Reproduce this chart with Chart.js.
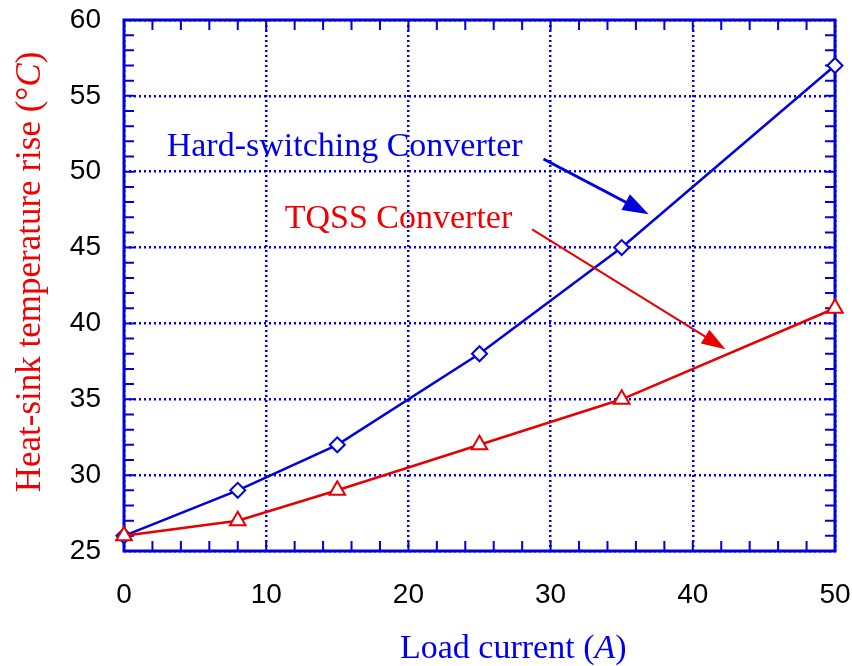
<!DOCTYPE html>
<html>
<head>
<meta charset="utf-8">
<script src="https://cdn.jsdelivr.net/npm/chart.js@4/dist/chart.umd.min.js"></script>
<style>
  html, body { margin: 0; padding: 0; background: #fff; }
  canvas { display: block; }
</style>
</head>
<body>
<canvas id="c" width="852" height="666"></canvas>
<script>
// Load current (A) at each measurement
const loadCurrent = [0, 8, 15, 25, 35, 50];
// Heat-sink temperature rise (°C)
const hardSwitching = [26, 29, 32, 38, 45, 57];
const tqss = [26, 27, 29, 32, 35, 41];

const xTicks = [0, 10, 20, 30, 40, 50];
const yTicks = [25, 30, 35, 40, 45, 50, 55, 60];

const BLUE = '#0000dd';
const GRID_BLUE = '#0000ee';
const BLUE_TEXT = '#0000f0';
const RED = '#e60000';
const RED_TEXT = '#f00000';
const SERIF = '"Liberation Serif", "Times New Roman", serif';
const SANS = '"Liberation Sans", Arial, sans-serif';

const toPoints = ys => loadCurrent.map((x, i) => ({ x, y: ys[i] }));

// Keep tick label overhang from shrinking the plot area
const noOverhang = s => {
  s.paddingTop = 0; s.paddingBottom = 0; s.paddingLeft = 0; s.paddingRight = 0;
};

// Frame on all four sides with inward major and minor ticks
const framePlugin = {
  id: 'frame',
  beforeDatasetsDraw(chart) {
    const { ctx, chartArea: a, scales: { x, y } } = chart;
    ctx.save();
    ctx.strokeStyle = BLUE;
    ctx.lineWidth = 2;
    const len = 10;
    ctx.beginPath();
    for (let v = 0; v <= 50; v += 2) {
      const px = x.getPixelForValue(v);
      ctx.moveTo(px, a.bottom); ctx.lineTo(px, a.bottom - len);
      ctx.moveTo(px, a.top); ctx.lineTo(px, a.top + len);
    }
    for (let v = 25; v <= 60; v += 1) {
      const py = y.getPixelForValue(v);
      ctx.moveTo(a.left, py); ctx.lineTo(a.left + len, py);
      ctx.moveTo(a.right, py); ctx.lineTo(a.right - len, py);
    }
    ctx.stroke();
    ctx.lineWidth = 3;
    ctx.strokeRect(a.left, a.top, a.right - a.left, a.bottom - a.top);
    ctx.restore();
  }
};

// Series captions with pointer arrows, placed in data units
const notes = [
  { text: 'Hard-switching Converter', color: BLUE_TEXT, arrowColor: BLUE, at: [3.0, 51.04],
    from: [29.5, 50.84], to: [36.9, 47.2], width: 3, head: [26, 9] },
  { text: 'TQSS Converter', color: RED_TEXT, arrowColor: RED, at: [11.3, 46.29],
    from: [28.7, 46.2], to: [42.3, 38.3], width: 2, head: [24, 8] }
];

function drawArrow(ctx, x1, y1, x2, y2, color, w, head) {
  const ang = Math.atan2(y2 - y1, x2 - x1);
  const [hl, hw] = head;
  const bx = x2 - hl * Math.cos(ang), by = y2 - hl * Math.sin(ang);
  ctx.strokeStyle = color;
  ctx.fillStyle = color;
  ctx.lineWidth = w;
  ctx.beginPath();
  ctx.moveTo(x1, y1);
  ctx.lineTo(bx + 4 * Math.cos(ang), by + 4 * Math.sin(ang));
  ctx.stroke();
  ctx.beginPath();
  ctx.moveTo(x2, y2);
  ctx.lineTo(bx + hw * Math.sin(ang), by - hw * Math.cos(ang));
  ctx.lineTo(bx - hw * Math.sin(ang), by + hw * Math.cos(ang));
  ctx.closePath();
  ctx.fill();
}

const notesPlugin = {
  id: 'notes',
  afterDatasetsDraw(chart) {
    const { ctx, scales: { x, y } } = chart;
    ctx.save();
    ctx.font = '34px ' + SERIF;
    ctx.textBaseline = 'alphabetic';
    ctx.textAlign = 'left';
    for (const n of notes) {
      ctx.fillStyle = n.color;
      ctx.fillText(n.text, x.getPixelForValue(n.at[0]), y.getPixelForValue(n.at[1]));
      drawArrow(ctx,
        x.getPixelForValue(n.from[0]), y.getPixelForValue(n.from[1]),
        x.getPixelForValue(n.to[0]), y.getPixelForValue(n.to[1]),
        n.arrowColor, n.width, n.head);
    }
    ctx.restore();
  }
};

// Axis titles with an italic unit symbol
function drawRich(ctx, parts, cx, cy, centered) {
  let total = 0;
  for (const p of parts) { ctx.font = p.font; p.w = ctx.measureText(p.t).width; total += p.w; }
  let xx = centered ? cx - total / 2 : cx;
  for (const p of parts) { ctx.font = p.font; ctx.fillText(p.t, xx, cy); xx += p.w; }
}

const titlesPlugin = {
  id: 'titles',
  afterDraw(chart) {
    const { ctx } = chart;
    const up = '34px ' + SERIF, it = 'italic 34px ' + SERIF;
    const upY = '35px ' + SERIF, itY = 'italic 35px ' + SERIF;
    ctx.save();
    ctx.textBaseline = 'alphabetic';
    ctx.textAlign = 'left';
    ctx.fillStyle = BLUE_TEXT;
    drawRich(ctx, [{ t: 'Load current (', font: up }, { t: 'A', font: it }, { t: ')', font: up }], 400, 658, false);
    ctx.translate(40, 272);
    ctx.rotate(-Math.PI / 2);
    ctx.fillStyle = RED_TEXT;
    drawRich(ctx, [{ t: 'Heat-sink temperature rise (\u00B0', font: upY }, { t: 'C', font: itY }, { t: ')', font: upY }], 0, 0, true);
    ctx.restore();
  }
};

new Chart(document.getElementById('c'), {
  type: 'line',
  data: {
    datasets: [
      {
        label: 'TQSS Converter',
        data: toPoints(tqss),
        borderColor: RED, borderWidth: 2.5,
        pointStyle: 'triangle', pointRadius: 9, pointBorderWidth: 2,
        pointBackgroundColor: '#fff', pointBorderColor: RED,
        order: 0, clip: false
      },
      {
        label: 'Hard-switching Converter',
        data: toPoints(hardSwitching),
        borderColor: BLUE, borderWidth: 2.5,
        pointStyle: 'rectRot', pointRadius: 7.5, pointBorderWidth: 2,
        pointBackgroundColor: '#fff', pointBorderColor: BLUE,
        order: 1, clip: false
      }
    ]
  },
  options: {
    responsive: false,
    animation: false,
    devicePixelRatio: 1,
    layout: { padding: { top: 20, right: 17, left: 0, bottom: 0 } },
    plugins: { legend: { display: false }, tooltip: { enabled: false } },
    scales: {
      x: {
        type: 'linear', min: 0, max: 50,
        afterBuildTicks: s => { s.ticks = xTicks.map(v => ({ value: v })); },
        afterFit: s => { s.height = 115; noOverhang(s); },
        ticks: { color: '#000', font: { family: SANS, size: 28 }, padding: 27 },
        grid: { color: GRID_BLUE, lineWidth: 2.5, drawTicks: false },
        border: { display: false, dash: [2, 3] }
      },
      y: {
        type: 'linear', min: 25, max: 60,
        afterBuildTicks: s => { s.ticks = yTicks.map(v => ({ value: v })); },
        afterFit: s => { s.width = 124; noOverhang(s); },
        ticks: { color: '#000', font: { family: SANS, size: 28 }, padding: 23 },
        grid: { color: GRID_BLUE, lineWidth: 2.5, drawTicks: false },
        border: { display: false, dash: [2, 3] }
      }
    }
  },
  plugins: [framePlugin, notesPlugin, titlesPlugin]
});
</script>
</body>
</html>
